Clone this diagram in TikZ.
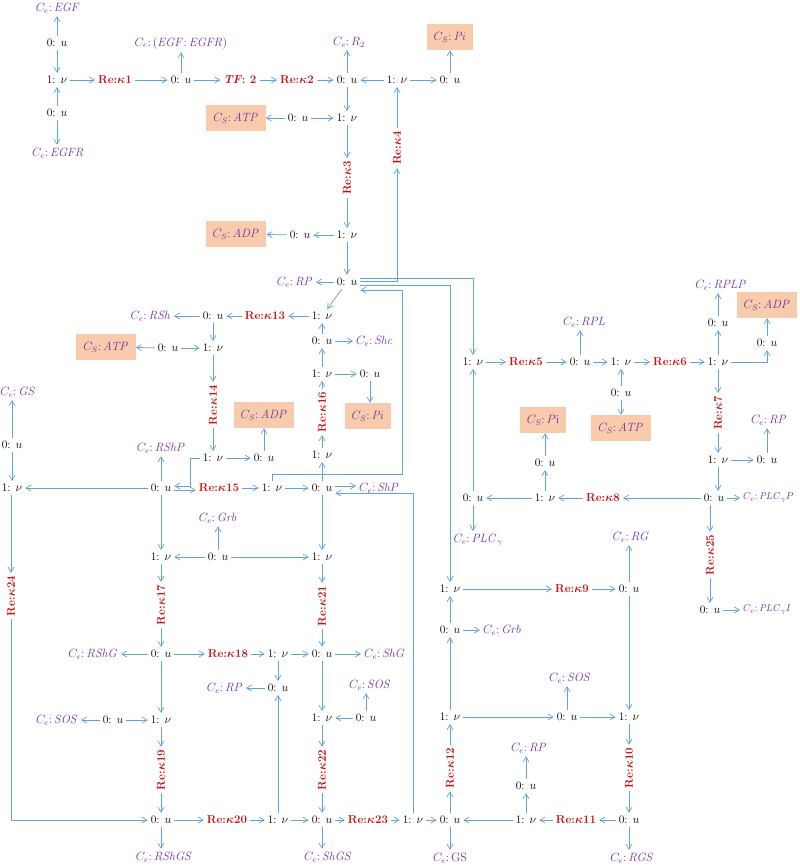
\documentclass[tikz,border=0pt]{standalone}
\usepackage{bm}
\usetikzlibrary{arrows.meta, positioning}

\definecolor{bondblue}{RGB}{98,162,218}
\definecolor{cepurple}{RGB}{112,48,160}
\definecolor{rered}{RGB}{200,16,16}
\definecolor{cspeach}{RGB}{248,203,173}

\newcommand{\zu}{0: $u$}
\newcommand{\onev}{1: $\nu$}
\newcommand{\rk}[1]{\textbf{Re:}$\bm{\kappa}$\textbf{#1}}
\newcommand{\cl}{{:}\,}

\begin{document}
\begin{tikzpicture}[
    x=1pt, y=-1pt,
    junc/.style={inner sep=3pt, font=\fontsize{11.5}{14}\selectfont},
    ce/.style={text=cepurple, inner sep=3pt, font=\fontsize{11.5}{14}\selectfont},
    cs/.style={fill=cspeach, text=cepurple, minimum height=26pt, inner xsep=7pt, font=\fontsize{11.5}{14}\selectfont},
    re/.style={text=rered, inner sep=3pt, font=\fontsize{11.5}{14}\selectfont},
    rev/.style={re, rotate=90},
    bond/.style={-{Straight Barb[length=5pt, width=6pt]}, draw=bondblue, line width=0.7pt}
]
    \useasboundingbox (0,0) rectangle (800,868);

    % EGF binding and receptor phosphorylation
    \node[ce] (egf) at (58,8) {$C_e\cl\mathit{EGF}$};
    \node[junc] (z1) at (57,43) {\zu};
    \node[junc] (o1) at (57,80) {\onev};
    \node[junc] (z2) at (57,113) {\zu};
    \node[ce] (egfr) at (58,153) {$C_e\cl\mathit{EGFR}$};
    \node[re] (r1) at (115,80) {\rk{1}};
    \node[junc] (z3) at (181,80) {\zu};
    \node[ce] (cegf) at (181,43) {$C_e\cl(\mathit{EGF}\cl\mathit{EGFR})$};
    \node[re] (tf) at (240,80) {\textbf{\textit{TF}: 2}};
    \node[re] (r2) at (297,80) {\rk{2}};
    \node[junc] (z4) at (347,80) {\zu};
    \node[ce] (cr2) at (349,42) {$C_e\cl R_2$};
    \node[junc] (o2) at (397,80) {\onev};
    \node[junc] (z5) at (450,80) {\zu};
    \node[cs] (pi1) at (450,37) {$C_S\cl\mathit{Pi}$};
    \node[junc] (o3) at (347,118) {\onev};
    \node[junc] (z6) at (298,118) {\zu};
    \node[cs] (atp1) at (236,118) {$C_S\cl\mathit{ATP}$};
    \node[rev] (r3) at (347,178) {\rk{3}};
    \node[rev] (r4) at (397,148) {\rk{4}};
    \node[junc] (o4) at (347,235) {\onev};
    \node[junc] (z7) at (300,235) {\zu};
    \node[cs] (adp1) at (236,234) {$C_S\cl\mathit{ADP}$};
    \node[junc] (zrp) at (347,282) {\zu};
    \node[ce, anchor=east] (crp1) at (316,282) {$C_e\cl\mathit{RP}$};

    % Shc branch
    \node[junc] (o5) at (322,316) {\onev};
    \node[re] (r13) at (265,316) {\rk{13}};
    \node[junc] (z8) at (213,316) {\zu};
    \node[ce, anchor=east] (crsh) at (174,316) {$C_e\cl\mathit{RSh}$};
    \node[junc] (zshc) at (322,341) {\zu};
    \node[ce, anchor=west] (cshc) at (353,341) {$C_e\cl\mathit{Shc}$};
    \node[junc] (o6) at (213,348) {\onev};
    \node[junc] (z9) at (168,348) {\zu};
    \node[cs] (atp2) at (106,347) {$C_S\cl\mathit{ATP}$};
    \node[junc] (o7) at (322,374) {\onev};
    \node[junc] (z10) at (370,374) {\zu};
    \node[cs] (pi2) at (368,416) {$C_S\cl\mathit{Pi}$};
    \node[rev] (r14) at (213,405) {\rk{14}};
    \node[rev] (r16) at (322,412) {\rk{16}};
    \node[junc] (o8) at (213,458) {\onev};
    \node[junc] (z11) at (264,458) {\zu};
    \node[cs] (adp2) at (264,415) {$C_S\cl\mathit{ADP}$};
    \node[junc] (o9) at (322,455) {\onev};
    \node[ce] (crshp) at (161,448) {$C_e\cl\mathit{RShP}$};
    \node[junc] (zrshp) at (161,488) {\zu};
    \node[re] (r15) at (219,488) {\rk{15}};
    \node[junc] (o10) at (272,488) {\onev};
    \node[junc] (zshp) at (322,488) {\zu};
    \node[ce, anchor=west] (cshp) at (356,488) {$C_e\cl\mathit{ShP}$};
    \coordinate (bend15) at (190,458);
    \coordinate (kink) at (402,474);

    % GS column
    \node[ce] (cgs1) at (18,392) {$C_e\cl\mathit{GS}$};
    \node[junc] (zgs) at (12,445) {\zu};
    \node[junc] (ogs) at (12,488) {\onev};
    \node[rev] (r24) at (11,596) {\rk{24}};

    % Grb branch
    \node[ce] (cgrb1) at (218,518) {$C_e\cl\mathit{Grb}$};
    \node[junc] (o11) at (161,557) {\onev};
    \node[junc] (zgrb) at (218,557) {\zu};
    \node[junc] (o12) at (322,557) {\onev};
    \node[rev] (r17) at (161,605) {\rk{17}};
    \node[rev] (r21) at (322,606) {\rk{21}};
    \node[ce, anchor=east] (crshg) at (121,654) {$C_e\cl\mathit{RShG}$};
    \node[junc] (zrshg) at (161,654) {\zu};
    \node[re] (r18) at (228,654) {\rk{18}};
    \node[junc] (o13) at (278,654) {\onev};
    \node[junc] (zshg) at (322,654) {\zu};
    \node[ce, anchor=west] (cshg) at (361,654) {$C_e\cl\mathit{ShG}$};
    \node[junc] (zrp2) at (278,688) {\zu};
    \node[ce, anchor=east] (crp2) at (246,688) {$C_e\cl\mathit{RP}$};
    \node[ce] (csos1) at (370,685) {$C_e\cl\mathit{SOS}$};

    % SOS binding
    \node[ce, anchor=east] (csos2) at (81,720) {$C_e\cl\mathit{SOS}$};
    \node[junc] (zsos1) at (113,720) {\zu};
    \node[junc] (o14) at (161,720) {\onev};
    \node[junc] (o15) at (322,718) {\onev};
    \node[junc] (zsos2) at (366,718) {\zu};
    \node[rev] (r19) at (161,770) {\rk{19}};
    \node[rev] (r22) at (322,770) {\rk{22}};
    \node[junc] (zrshgs) at (161,820) {\zu};
    \node[re] (r20) at (227,820) {\rk{20}};
    \node[junc] (o16) at (278,820) {\onev};
    \node[junc] (zshgs) at (322,820) {\zu};
    \node[re] (r23) at (368,820) {\rk{23}};
    \node[junc] (o17) at (413,820) {\onev};
    \node[junc] (zgs2) at (450,820) {\zu};
    \node[ce] (crshgs) at (164,857) {$C_e\cl\mathit{RShGS}$};
    \node[ce] (cshgs) at (328,857) {$C_e\cl\mathit{ShGS}$};
    \node[ce] (cgs2) at (450,858) {$C_e\cl\mathrm{GS}$};

    % RG loop
    \node[rev] (r12) at (450,768) {\rk{12}};
    \node[junc] (o18) at (450,717) {\onev};
    \node[junc] (zsos3) at (567,717) {\zu};
    \node[ce] (csos3) at (570,678) {$C_e\cl\mathit{SOS}$};
    \node[junc] (o19) at (629,717) {\onev};
    \node[junc] (zgrb2) at (450,630) {\zu};
    \node[ce, anchor=west] (cgrb2) at (480,630) {$C_e\cl\mathit{Grb}$};
    \node[junc] (o20) at (450,589) {\onev};
    \node[re] (r9) at (572,589) {\rk{9}};
    \node[junc] (zrg) at (629,589) {\zu};
    \node[ce] (crg) at (631,537) {$C_e\cl\mathit{RG}$};
    \node[rev] (r10) at (629,768) {\rk{10}};
    \node[junc] (zrgs) at (629,820) {\zu};
    \node[ce] (crgs) at (632,858) {$C_e\cl\mathit{RGS}$};
    \node[re] (r11) at (576,820) {\rk{11}};
    \node[junc] (o21) at (526,820) {\onev};
    \node[junc] (zrp3) at (526,786) {\zu};
    \node[ce] (crp3) at (529,748) {$C_e\cl\mathit{RP}$};

    % PLCgamma branch
    \node[junc] (o22) at (473,362) {\onev};
    \node[re] (r5) at (526,362) {\rk{5}};
    \node[junc] (zrpl) at (580,362) {\zu};
    \node[ce] (crpl) at (584,322) {$C_e\cl\mathit{RPL}$};
    \node[junc] (o23) at (621,362) {\onev};
    \node[junc] (zatp3) at (621,393) {\zu};
    \node[cs] (atp3) at (621,428) {$C_S\cl\mathit{ATP}$};
    \node[re] (r6) at (670,362) {\rk{6}};
    \node[junc] (o24) at (718,362) {\onev};
    \node[junc] (zrplp) at (718,323) {\zu};
    \node[ce] (crplp) at (721,285) {$C_e\cl\mathit{RPLP}$};
    \node[junc] (zadp3) at (767,343) {\zu};
    \node[cs] (adp3) at (767,305) {$C_S\cl\mathit{ADP}$};
    \node[rev] (r7) at (718,413) {\rk{7}};
    \node[junc] (o25) at (718,460) {\onev};
    \node[junc] (zrp4) at (767,460) {\zu};
    \node[ce] (crp4) at (769,420) {$C_e\cl\mathit{RP}$};
    \node[junc] (zplcp) at (714,498) {\zu};
    \node[ce, anchor=west, font=\fontsize{10}{12}\selectfont] (cplcp) at (740,498) {$C_e\cl\mathit{PLC}_\gamma P$};
    \node[re] (r8) at (603,498) {\rk{8}};
    \node[junc] (o26) at (545,498) {\onev};
    \node[junc] (zpi3) at (545,463) {\zu};
    \node[cs] (pi3) at (543,420) {$C_S\cl P\mathrm{i}$};
    \node[junc] (zplc) at (473,498) {\zu};
    \node[ce] (cplc) at (478,540) {$C_e\cl\mathit{PLC}_\gamma$};
    \node[rev] (r25) at (710,555) {\rk{25}};
    \node[junc] (zplci) at (710,610) {\zu};
    \node[ce, anchor=west, font=\fontsize{10}{12}\selectfont] (cplci) at (740,610) {$C_e\cl\mathit{PLC}_\gamma I$};

    % bonds: receptor part
    \draw[bond] (z1) -- (z1 |- egf.south);
    \draw[bond] (z1) -- (o1);
    \draw[bond] (z2) -- (o1);
    \draw[bond] (z2) -- (z2 |- egfr.north);
    \draw[bond] (o1) -- (r1);
    \draw[bond] (r1) -- (z3);
    \draw[bond] (z3) -- (cegf);
    \draw[bond] (z3) -- (tf);
    \draw[bond] (tf) -- (r2);
    \draw[bond] (r2) -- (z4);
    \draw[bond] (z4) -- (z4 |- cr2.south);
    \draw[bond] (o2) -- (z4);
    \draw[bond] (o2) -- (z5);
    \draw[bond] (z5) -- (pi1);
    \draw[bond] (z4) -- (o3);
    \draw[bond] (z6) -- (o3);
    \draw[bond] (z6) -- (atp1);
    \draw[bond] (o3) -- (r3);
    \draw[bond] (r3) -- (o4);
    \draw[bond] (o4) -- (z7);
    \draw[bond] (z7) -- (adp1);
    \draw[bond] (o4) -- (zrp);
    \draw[bond] (zrp) -- (crp1);
    \draw[bond] (r4) -- (o2);

    % bonds leaving RP
    \draw[bond] ([yshift=4pt]zrp.east) -| (o22);
    \draw[bond] ([yshift=0.5pt]zrp.east) -| (r4);
    \draw[bond] ([yshift=-3pt]zrp.east) -| (o20);
    \draw[bond] (o10) |- (kink) |- ([yshift=-8pt]zrp.east);
    \draw[bond] (zrp) -- (o5);

    % bonds: Shc part
    \draw[bond] (o5) -- (r13);
    \draw[bond] (r13) -- (z8);
    \draw[bond] (z8) -- (crsh);
    \draw[bond] (z8) -- (o6);
    \draw[bond] (z9) -- (o6);
    \draw[bond] (z9) -- (atp2);
    \draw[bond] (o6) -- (r14);
    \draw[bond] (r14) -- (o8);
    \draw[bond] (o8) -- (z11);
    \draw[bond] (z11) -- (adp2);
    \draw[bond] (o8) -- (bend15) |- ([yshift=2pt]zrshp.east);
    \draw[bond] (zrshp) -- (crshp);
    \draw[bond] ([yshift=-2pt]zrshp.east) -- ([yshift=-2pt]r15.west);
    \draw[bond] (r15) -- (o10);
    \draw[bond] (o10) -- (zshp);
    \draw[bond] ([yshift=2pt]zshp.east) -- ([yshift=2pt]cshp.west);
    \draw[bond] (zshp) -- (o9);
    \draw[bond] (o9) -- (r16);
    \draw[bond] (r16) -- (o7);
    \draw[bond] (o7) -- (z10);
    \draw[bond] (z10) -- (z10 |- pi2.north);
    \draw[bond] (o7) -- (zshc);
    \draw[bond] (zshc) -- (cshc);
    \draw[bond] (zshc) -- (o5);
    \draw[bond] (o17) |- ([yshift=-5pt]zshp.east);

    % bonds: GS column
    \draw[bond] (zgs) -- (zgs |- cgs1.south);
    \draw[bond] (zgs) -- (ogs);
    \draw[bond] (zrshp) -- (ogs);
    \draw[bond] (ogs.south -| r24) -- (r24);
    \draw[bond] (r24) |- (zrshgs);

    % bonds: Grb part
    \draw[bond] (zrshp) -- (o11);
    \draw[bond] (zgrb) -- (o11);
    \draw[bond] (zgrb) -- (o12);
    \draw[bond] (zgrb) -- (cgrb1);
    \draw[bond] (zshp) -- (o12);
    \draw[bond] (o11) -- (r17);
    \draw[bond] (r17) -- (zrshg);
    \draw[bond] (o12) -- (r21);
    \draw[bond] (r21) -- (zshg);
    \draw[bond] (zrshg) -- (crshg);
    \draw[bond] (zrshg) -- (r18);
    \draw[bond] (r18) -- (o13);
    \draw[bond] (o13) -- (zshg);
    \draw[bond] (zshg) -- (cshg);
    \draw[bond] (o13) -- (zrp2);
    \draw[bond] (zrp2) -- (crp2);

    % bonds: SOS part
    \draw[bond] (zrshg) -- (o14);
    \draw[bond] (zsos1) -- (csos2);
    \draw[bond] (zsos1) -- (o14);
    \draw[bond] (o14) -- (r19);
    \draw[bond] (r19) -- (zrshgs);
    \draw[bond] (zshg) -- (o15);
    \draw[bond] (zsos2) -- (o15);
    \draw[bond] (zsos2) -- (zsos2 |- csos1.south);
    \draw[bond] (o15) -- (r22);
    \draw[bond] (r22) -- (zshgs);
    \draw[bond] (zrshgs) -- (zrshgs |- crshgs.north);
    \draw[bond] (zrshgs) -- (r20);
    \draw[bond] (r20) -- (o16);
    \draw[bond] (o16) -- (zrp2);
    \draw[bond] (o16) -- (zshgs);
    \draw[bond] (zshgs) -- (zshgs |- cshgs.north);
    \draw[bond] (zshgs) -- (r23);
    \draw[bond] (r23) -- (o17);
    \draw[bond] (o17) -- (zgs2);
    \draw[bond] (zgs2) -- (cgs2);

    % bonds: RG loop
    \draw[bond] (zgs2) -- (r12);
    \draw[bond] (r12) -- (o18);
    \draw[bond] (o18) -- (zgrb2);
    \draw[bond] (zgrb2) -- (cgrb2);
    \draw[bond] (zgrb2) -- (o20);
    \draw[bond] (o20) -- (r9);
    \draw[bond] (r9) -- (zrg);
    \draw[bond] (zrg) -- (zrg |- crg.south);
    \draw[bond] (zrg) -- (o19);
    \draw[bond] (o18) -- (zsos3);
    \draw[bond] (zsos3) -- (zsos3 |- csos3.south);
    \draw[bond] (zsos3) -- (o19);
    \draw[bond] (o19) -- (r10);
    \draw[bond] (r10) -- (zrgs);
    \draw[bond] (zrgs) -- (zrgs |- crgs.north);
    \draw[bond] (zrgs) -- (r11);
    \draw[bond] (r11) -- (o21);
    \draw[bond] (o21) -- (zgs2);
    \draw[bond] (o21) -- (zrp3);
    \draw[bond] (zrp3) -- (zrp3 |- crp3.south);

    % bonds: PLCgamma part
    \draw[bond] (zplc) -- (o22);
    \draw[bond] (zplc) -- (zplc |- cplc.north);
    \draw[bond] (o22) -- (r5);
    \draw[bond] (r5) -- (zrpl);
    \draw[bond] (zrpl) -- (zrpl |- crpl.south);
    \draw[bond] (zrpl) -- (o23);
    \draw[bond] (zatp3) -- (o23);
    \draw[bond] (zatp3) -- (atp3);
    \draw[bond] (o23) -- (r6);
    \draw[bond] (r6) -- (o24);
    \draw[bond] (o24) -- (zrplp);
    \draw[bond] (zrplp) -- (zrplp |- crplp.south);
    \draw[bond] (o24) -| (zadp3);
    \draw[bond] (zadp3) -- (adp3);
    \draw[bond] (o24) -- (r7);
    \draw[bond] (r7) -- (o25);
    \draw[bond] (o25) -- (zrp4);
    \draw[bond] (zrp4) -- (zrp4 |- crp4.south);
    \draw[bond] (o25) -- (o25 |- zplcp.north);
    \draw[bond] (zplcp) -- (cplcp);
    \draw[bond] (zplcp) -- (r8);
    \draw[bond] (r8) -- (o26);
    \draw[bond] (o26) -- (zpi3);
    \draw[bond] (zpi3) -- (zpi3 |- pi3.south);
    \draw[bond] (o26) -- (zplc);
    \draw[bond] (zplcp.south -| r25) -- (r25);
    \draw[bond] (r25) -- (zplci);
    \draw[bond] (zplci) -- (cplci);
\end{tikzpicture}
\end{document}
